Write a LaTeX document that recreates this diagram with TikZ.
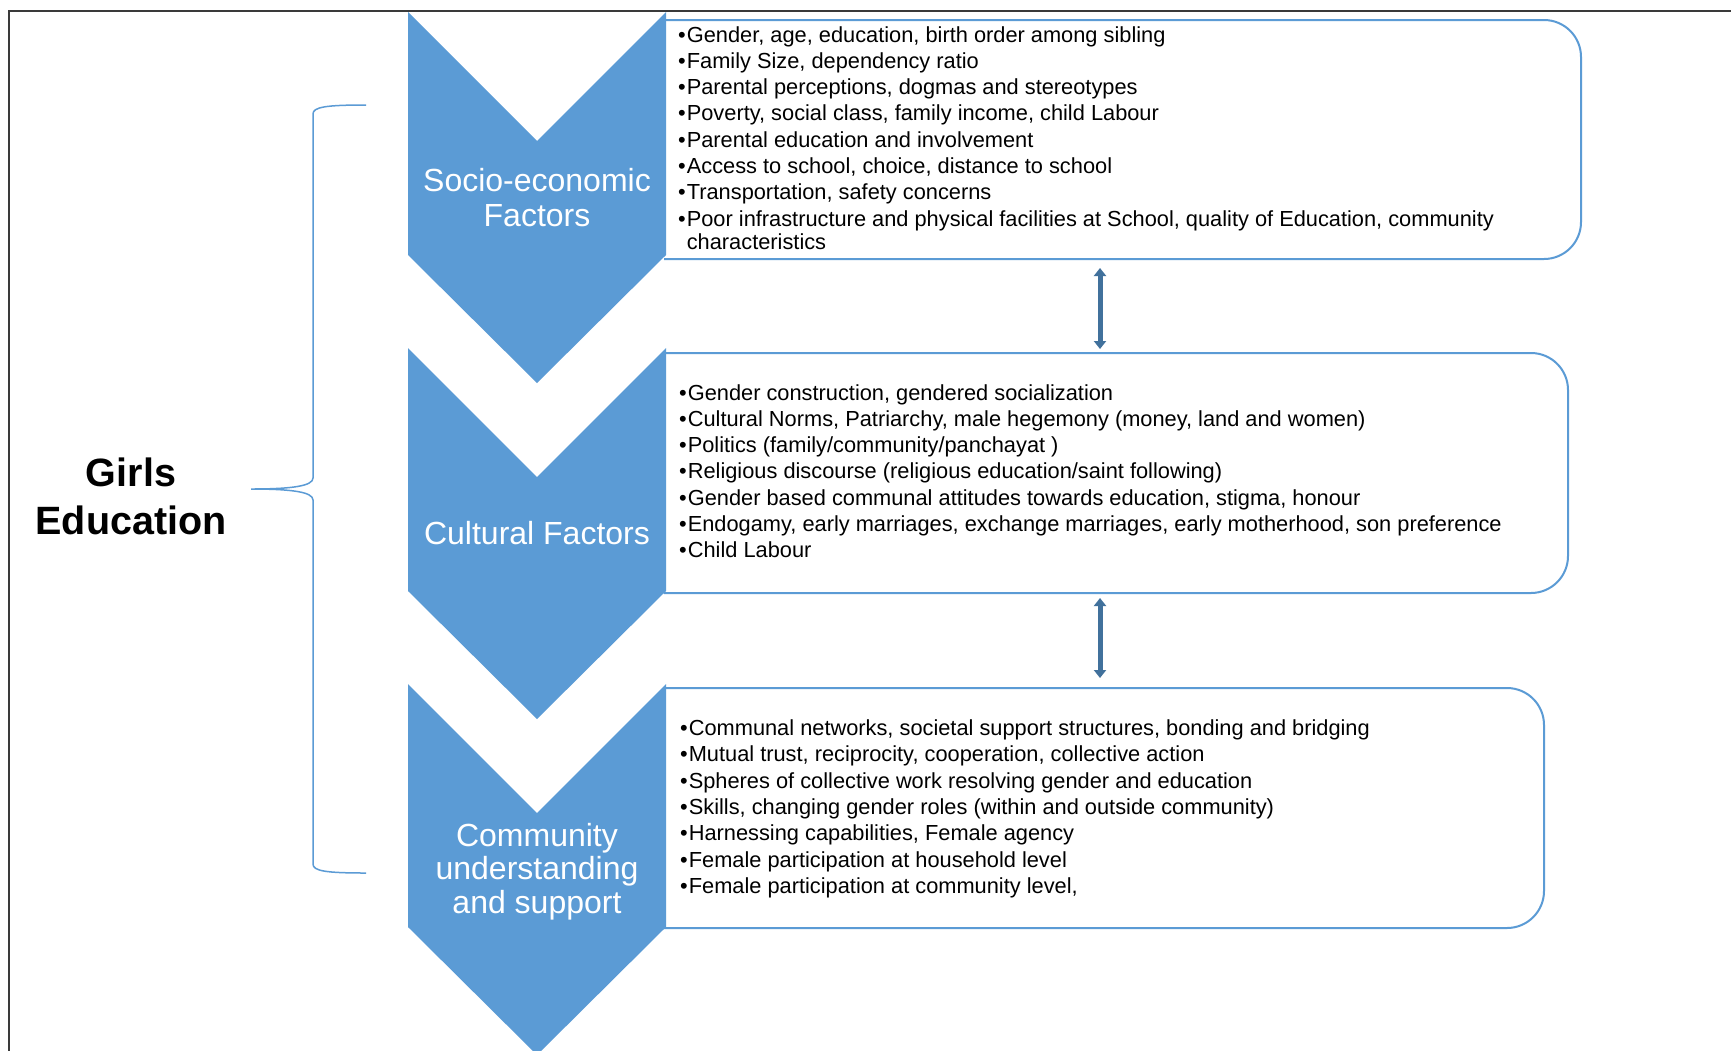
\documentclass[tikz,border=0pt]{standalone}
\usepackage{fontspec}
\setmainfont{Liberation Sans}
\usetikzlibrary{arrows.meta,calc}
\definecolor{chev}{HTML}{5B9BD5}
\definecolor{arrowblue}{HTML}{41719C}
\definecolor{framegray}{HTML}{3A3A3A}
\newcommand{\bul}{•\kern1pt}

\begin{document}
\begin{tikzpicture}[x=1pt,y=-1pt,
  chevron/.style={fill=chev, draw=none},
  chevlabel/.style={text=white, font=\fontsize{32}{34.5}\selectfont, align=center, inner sep=0pt},
  panel/.style={draw=chev, line width=2pt, fill=white, rounded corners=37pt,
                anchor=north west, inner sep=0pt},
  item/.style={anchor=base west, inner sep=0pt, font=\fontsize{21.8}{26}\selectfont},
  link/.style={arrowblue, line width=5pt,
               {Triangle[width=12pt,length=8pt]}-{Triangle[width=12pt,length=8pt]}},
  bracket/.style={draw=chev, line width=1.5pt},
]
% canvas
\clip (0,0) rectangle (1731,1050);
\fill[white] (0,0) rectangle (1731,1050);
\draw[framegray, line width=1.5pt] (9,1060) -- (9,11) -- (1740,11);

% text panels (left corners hidden behind the chevrons)
\begin{scope}
  \clip (664,0) rectangle (1731,1050);
  \node[panel, minimum width=1020pt, minimum height=239pt] (box1) at (560,19) {};
  \node[panel, minimum width=1007pt, minimum height=240pt] (box2) at (560,352) {};
  \node[panel, minimum width=983pt,  minimum height=240pt] (box3) at (560,687) {};
\end{scope}

% chevrons
\foreach \dy in {0,336,672}
  \fill[chevron] (408,{12+\dy}) -- (537,{141+\dy}) -- (666,{12+\dy})
    -- (666,{255+\dy}) -- (537,{383+\dy}) -- (408,{255+\dy}) -- cycle;

\node[chevlabel] (socio) at (537,197.5) {Socio-economic\\Factors};
\node[chevlabel] (cult) at (537,533) {Cultural Factors};
\node[chevlabel, font=\fontsize{32}{33.5}\selectfont] (comm) at (537,871.5)
  {Community\\understanding\\and support};

% left title and bracket
\node[font=\fontsize{39.5}{48}\selectfont\bfseries, align=center, inner sep=0pt] (girls)
  at (131,496) {Girls\\Education};
\coordinate (btop) at (366,105);
\coordinate (bmid) at (251,489);
\coordinate (bbot) at (366,873);
\draw[bracket] (btop) .. controls (326,105) and (313,107) .. (313,114)
  -- (313,478) .. controls (313,486) and (292,489) .. (bmid)
  .. controls (292,489) and (313,492) .. (313,500)
  -- (313,864) .. controls (313,871) and (326,873) .. (bbot);

% bullet lists
\foreach \t [count=\i from 0] in {
  {Gender, age, education, birth order among sibling},
  {Family Size, dependency ratio},
  {Parental perceptions, dogmas and stereotypes},
  {Poverty, social class, family income, child Labour},
  {Parental education and involvement},
  {Access to school, choice, distance to school},
  {Transportation, safety concerns},
  {Poor infrastructure and physical facilities at School, quality of Education, community}}
  \node[item] (a\i) at (678,{42+26.3*\i}) {\bul\t};
\node[item] (a8) at (678,249.5) {\phantom{\bul}characteristics};

\foreach \t [count=\i from 0] in {
  {Gender construction, gendered socialization},
  {Cultural Norms, Patriarchy, male hegemony (money, land and women)},
  {Politics (family/community/panchayat )},
  {Religious discourse (religious education/saint following)},
  {Gender based communal attitudes towards education, stigma, honour},
  {Endogamy, early marriages, exchange marriages, early motherhood, son preference},
  {Child Labour}}
  \node[item] (b\i) at (679,{400+26.3*\i}) {\bul\t};

\foreach \t [count=\i from 0] in {
  {Communal networks, societal support structures, bonding and bridging},
  {Mutual trust, reciprocity, cooperation, collective action},
  {Spheres of collective work resolving gender and education},
  {Skills, changing gender roles (within and outside community)},
  {Harnessing capabilities, Female agency},
  {Female participation at household level},
  {Female participation at community level,}}
  \node[item] (c\i) at (680,{735.5+26.3*\i}) {\bul\t};

% links between panels
\coordinate (ax) at (1100,0);
\draw[link] ($(box1.south -| ax)+(0,8)$) -- ($(box2.north -| ax)+(0,-3)$);
\draw[link] ($(box2.south -| ax)+(0,4)$) -- ($(box3.north -| ax)+(0,-9)$);
\end{tikzpicture}
\end{document}
